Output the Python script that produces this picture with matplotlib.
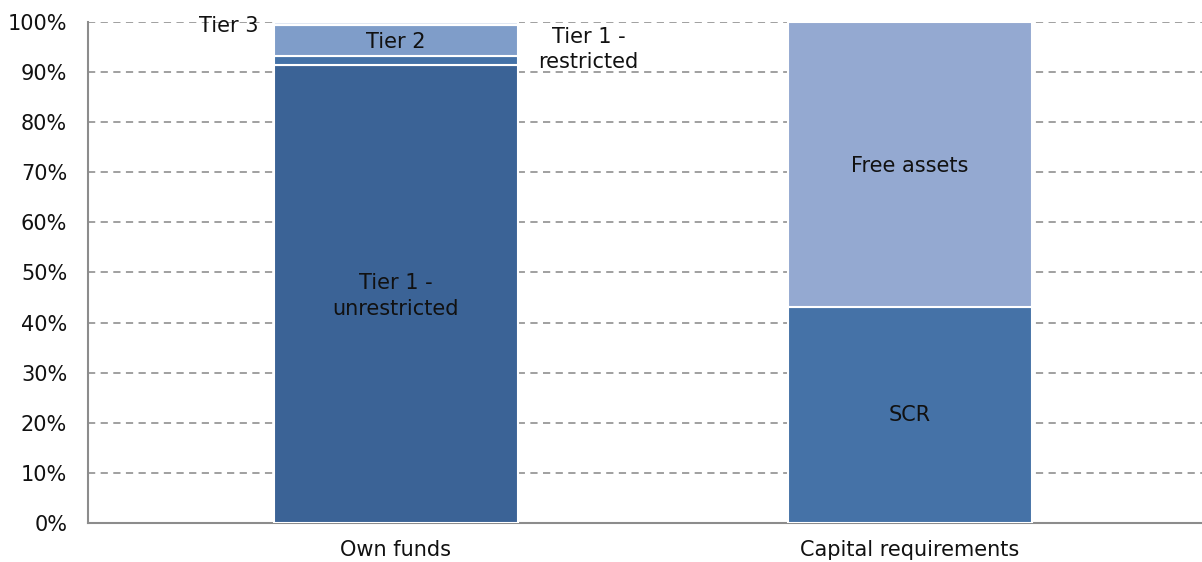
import numpy as np
import matplotlib.pyplot as plt
from matplotlib.ticker import PercentFormatter

# chart data (percent of total)
categories = ['Own funds', 'Capital requirements']
own_funds_labels = ['Tier 1 - unrestricted', 'Tier 1 - restricted', 'Tier 2', 'Tier 3']
own_funds_values = [91.4, 1.8, 6.2, 0.6]
cap_req_labels = ['SCR', 'Free assets']
cap_req_values = [43.2, 56.8]
y_ticks = np.arange(0, 101, 10)

own_colors = ['#3b6396', '#4472a8', '#7f9dc9', '#dfe6f2']
cap_colors = ['#4572a7', '#94a9d1']

fig = plt.figure(figsize=(12.02, 5.62), dpi=100)
ax = fig.add_axes([0.0732, 0.0694, 0.9268, 0.8915])

width = 0.475
x = np.arange(len(categories))

# stacked bars
bottom = 0
for val, col in zip(own_funds_values, own_colors):
    ax.bar(x[0], val, width, bottom=bottom, color=col, edgecolor='white', linewidth=1.5, zorder=3)
    bottom += val
bottom = 0
for val, col in zip(cap_req_values, cap_colors):
    ax.bar(x[1], val, width, bottom=bottom, color=col, edgecolor='white', linewidth=1.5, zorder=3)
    bottom += val

# segment labels
fs = 15
tc = '#111111'
cum = np.cumsum([0] + own_funds_values)
ax.text(x[0], 45.3, 'Tier 1 -\nunrestricted', ha='center', va='center', fontsize=fs, color=tc, zorder=4, linespacing=1.35)
ax.text(x[0], (cum[2] + cum[3]) / 2 - 0.3, 'Tier 2', ha='center', va='center', fontsize=fs, color=tc, zorder=4)
ax.text(x[0] + 0.375, 94.5, 'Tier 1 -\nrestricted', ha='center', va='center', fontsize=fs, color=tc, zorder=4, linespacing=1.3)
ax.text(x[0] - 0.268, 99.2, 'Tier 3', ha='right', va='center', fontsize=fs, color=tc, zorder=4)

ax.text(x[1], 21.6, 'SCR', ha='center', va='center', fontsize=fs, color=tc, zorder=4)
ax.text(x[1], 71.3, 'Free assets', ha='center', va='center', fontsize=fs, color=tc, zorder=4)

ax.set_xlim(-0.599, 1.568)
ax.set_ylim(0, 100)
ax.set_yticks(y_ticks)
ax.yaxis.set_major_formatter(PercentFormatter(decimals=0))
ax.set_xticks(x)
ax.set_xticklabels(categories)
ax.tick_params(axis='both', length=0, labelsize=fs, colors=tc)
ax.tick_params(axis='x', pad=12)
ax.tick_params(axis='y', pad=15)

ax.grid(axis='y', color='#999999', linestyle=(0, (4, 3)), linewidth=1.3, zorder=0)
for s in ['top', 'right']:
    ax.spines[s].set_visible(False)
for s in ['left', 'bottom']:
    ax.spines[s].set_color('#8c8c8c')
    ax.spines[s].set_linewidth(1.5)

fig.savefig('out.png', dpi=100)
